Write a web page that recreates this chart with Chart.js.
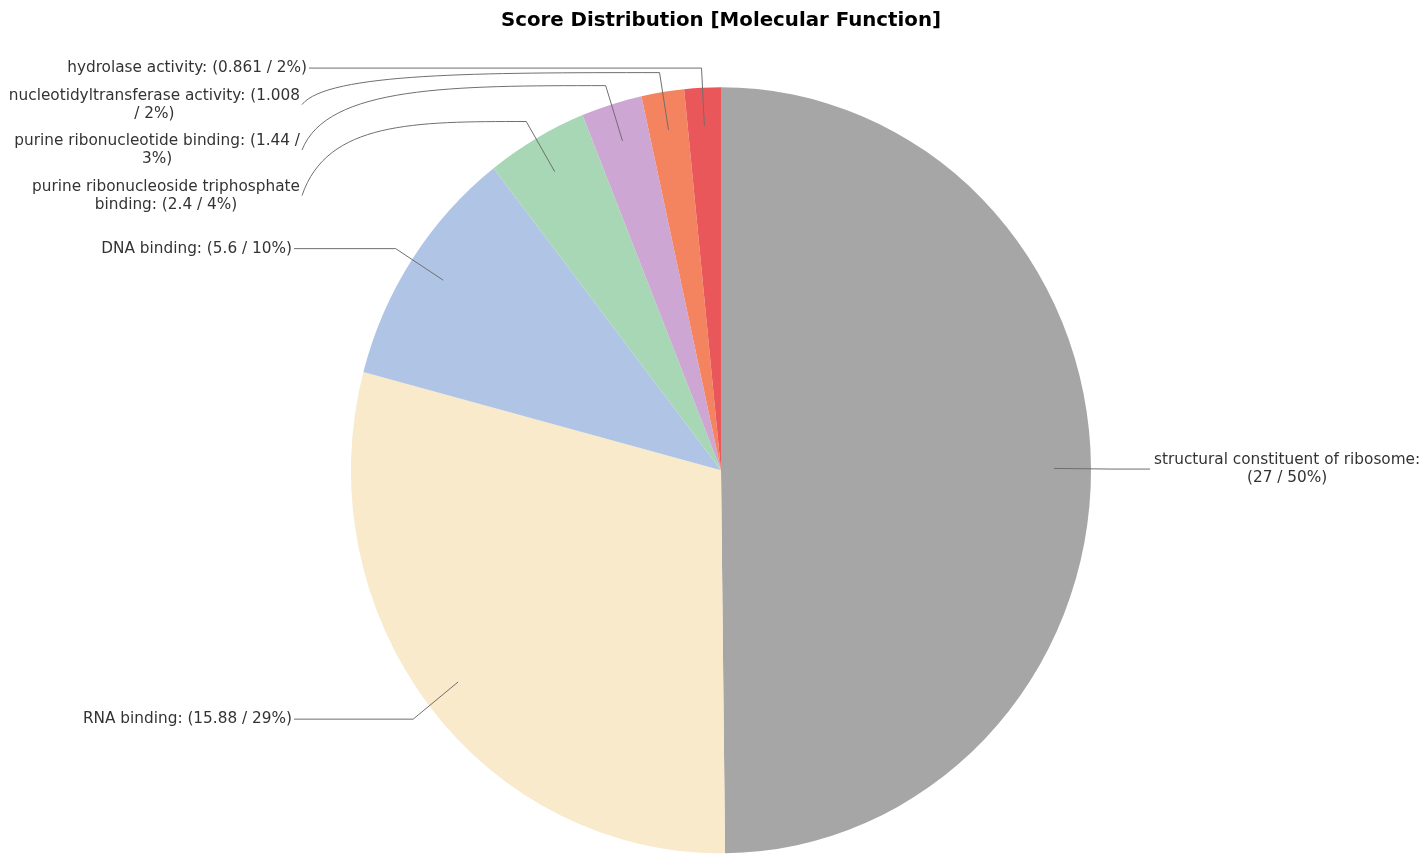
<!DOCTYPE html>
<html>
<head>
<meta charset="utf-8">
<script src="https://cdn.jsdelivr.net/npm/chart.js@4.4.1/dist/chart.umd.min.js"></script>
<style>
  html, body { margin: 0; padding: 0; background: #fff; }
  #wrap { width: 1427px; height: 854px; position: relative; }
</style>
</head>
<body>
<div id="wrap"><canvas id="scoreChart"></canvas></div>
<script>
// Molecular function categories and their scores
const categories = [
  'structural constituent of ribosome',
  'RNA binding',
  'DNA binding',
  'purine ribonucleoside triphosphate binding',
  'purine ribonucleotide binding',
  'nucleotidyltransferase activity',
  'hydrolase activity'
];
const scores = [27, 15.88, 5.6, 2.4, 1.44, 1.008, 0.861];
const sliceColors = ['#a6a6a6', '#f8eaca', '#b0c4e6', '#a7d7b5', '#cda6d3', '#f4835f', '#ea575a'];

const total = scores.reduce((a, b) => a + b, 0);
const LABEL_FONT = '15.3px "DejaVu Sans"';
const LINE_H = 18;
const Y_STRETCH = 383 / 370; // pie in the reference is slightly taller than wide

function wrapText(ctx, text, maxW) {
  const words = text.split(' ');
  const lines = [];
  let cur = '';
  words.forEach(w => {
    const test = cur ? cur + ' ' + w : w;
    if (ctx.measureText(test).width > maxW && cur) {
      lines.push(cur);
      cur = w;
    } else {
      cur = test;
    }
  });
  if (cur) lines.push(cur);
  return lines;
}

// stretch the pie vertically around its centre
const stretchPlugin = {
  id: 'stretch',
  beforeDatasetsDraw(chart) {
    const arc = chart.getDatasetMeta(0).data[0];
    const ctx = chart.ctx;
    ctx.save();
    ctx.translate(arc.x, arc.y);
    ctx.scale(1, Y_STRETCH);
    ctx.translate(-arc.x, -arc.y);
  },
  afterDatasetsDraw(chart) {
    chart.ctx.restore();
  }
};

// labels with leader lines, like the original chart
const leaderPlugin = {
  id: 'leaders',
  afterDraw(chart) {
    const ctx = chart.ctx;
    const meta = chart.getDatasetMeta(0);
    ctx.save();
    ctx.font = LABEL_FONT;
    const items = meta.data.map((arc, i) => {
      const mid = (arc.startAngle + arc.endAngle) / 2;
      const rx = arc.outerRadius, ry = arc.outerRadius * Y_STRETCH;
      const pct = Math.round(scores[i] / total * 100);
      const text = `${categories[i]}: (${scores[i]} / ${pct}%)`;
      const right = Math.cos(mid) > 0;
      return {
        i, right, text,
        ax: arc.x + Math.cos(mid) * rx * 0.9,
        ay: arc.y + Math.sin(mid) * ry * 0.9,
        bx: arc.x + Math.cos(mid) * rx * 1.054,
        by: arc.y + Math.sin(mid) * ry * 1.054 + 1,
        lines: wrapText(ctx, text, right ? 270 : 292)
      };
    });

    // stack labels on each side so they don't overlap
    ['left', 'right'].forEach(side => {
      const group = items.filter(it => (side === 'right') === it.right).sort((a, b) => a.by - b.by);
      let prevLast = -Infinity;
      group.forEach((it, k) => {
        const n = it.lines.length;
        let first = it.by - (n - 1) * LINE_H / 2;
        first = Math.max(first, prevLast + 27.5);
        it.firstY = first;
        it.midY = first + (n - 1) * LINE_H / 2;
        it.top = k === 0 && side === 'left';
        prevLast = first + (n - 1) * LINE_H;
      });
    });

    items.forEach(it => {
      const blockW = Math.max(...it.lines.map(l => ctx.measureText(l).width));
      let textCx, endX;
      if (it.right) {
        endX = 1150;
        textCx = endX + 4 + blockW / 2;
      } else {
        const rightEdge = it.top ? 307 : (it.lines.length > 1 ? 300 : 292);
        endX = rightEdge + 2;
        textCx = rightEdge - blockW / 2;
      }

      ctx.strokeStyle = '#6f6f6f';
      ctx.lineWidth = 1;
      ctx.beginPath();
      ctx.moveTo(it.ax, it.ay);
      ctx.lineTo(it.bx, it.by);
      if (Math.abs(it.midY - it.by) < 1) {
        ctx.lineTo(endX, it.by);
      } else {
        const dx = it.bx - endX;
        ctx.bezierCurveTo(it.bx - dx * 0.5, it.by, endX + 25, it.by, endX, it.midY);
      }
      ctx.stroke();

      ctx.fillStyle = '#333';
      ctx.textAlign = 'center';
      ctx.textBaseline = 'middle';
      it.lines.forEach((l, k) => ctx.fillText(l, textCx, it.firstY + k * LINE_H));
    });
    ctx.restore();
  }
};

const ctx = document.getElementById('scoreChart').getContext('2d');
new Chart(ctx, {
  type: 'pie',
  data: {
    labels: categories,
    datasets: [{
      data: scores,
      backgroundColor: sliceColors,
      borderWidth: 0,
      hoverOffset: 0
    }]
  },
  options: {
    responsive: true,
    maintainAspectRatio: false,
    animation: false,
    layout: { padding: { left: 15, right: 0, top: 0, bottom: 13.7 } },
    plugins: {
      legend: { display: false },
      tooltip: { enabled: false },
      title: {
        display: true,
        text: 'Score Distribution [Molecular Function]',
        color: '#000',
        font: { family: '"DejaVu Sans"', size: 19.8, weight: 'bold', lineHeight: 1.2 },
        padding: { top: 9, bottom: 67.5 }
      }
    }
  },
  plugins: [stretchPlugin, leaderPlugin]
});
</script>
</body>
</html>
